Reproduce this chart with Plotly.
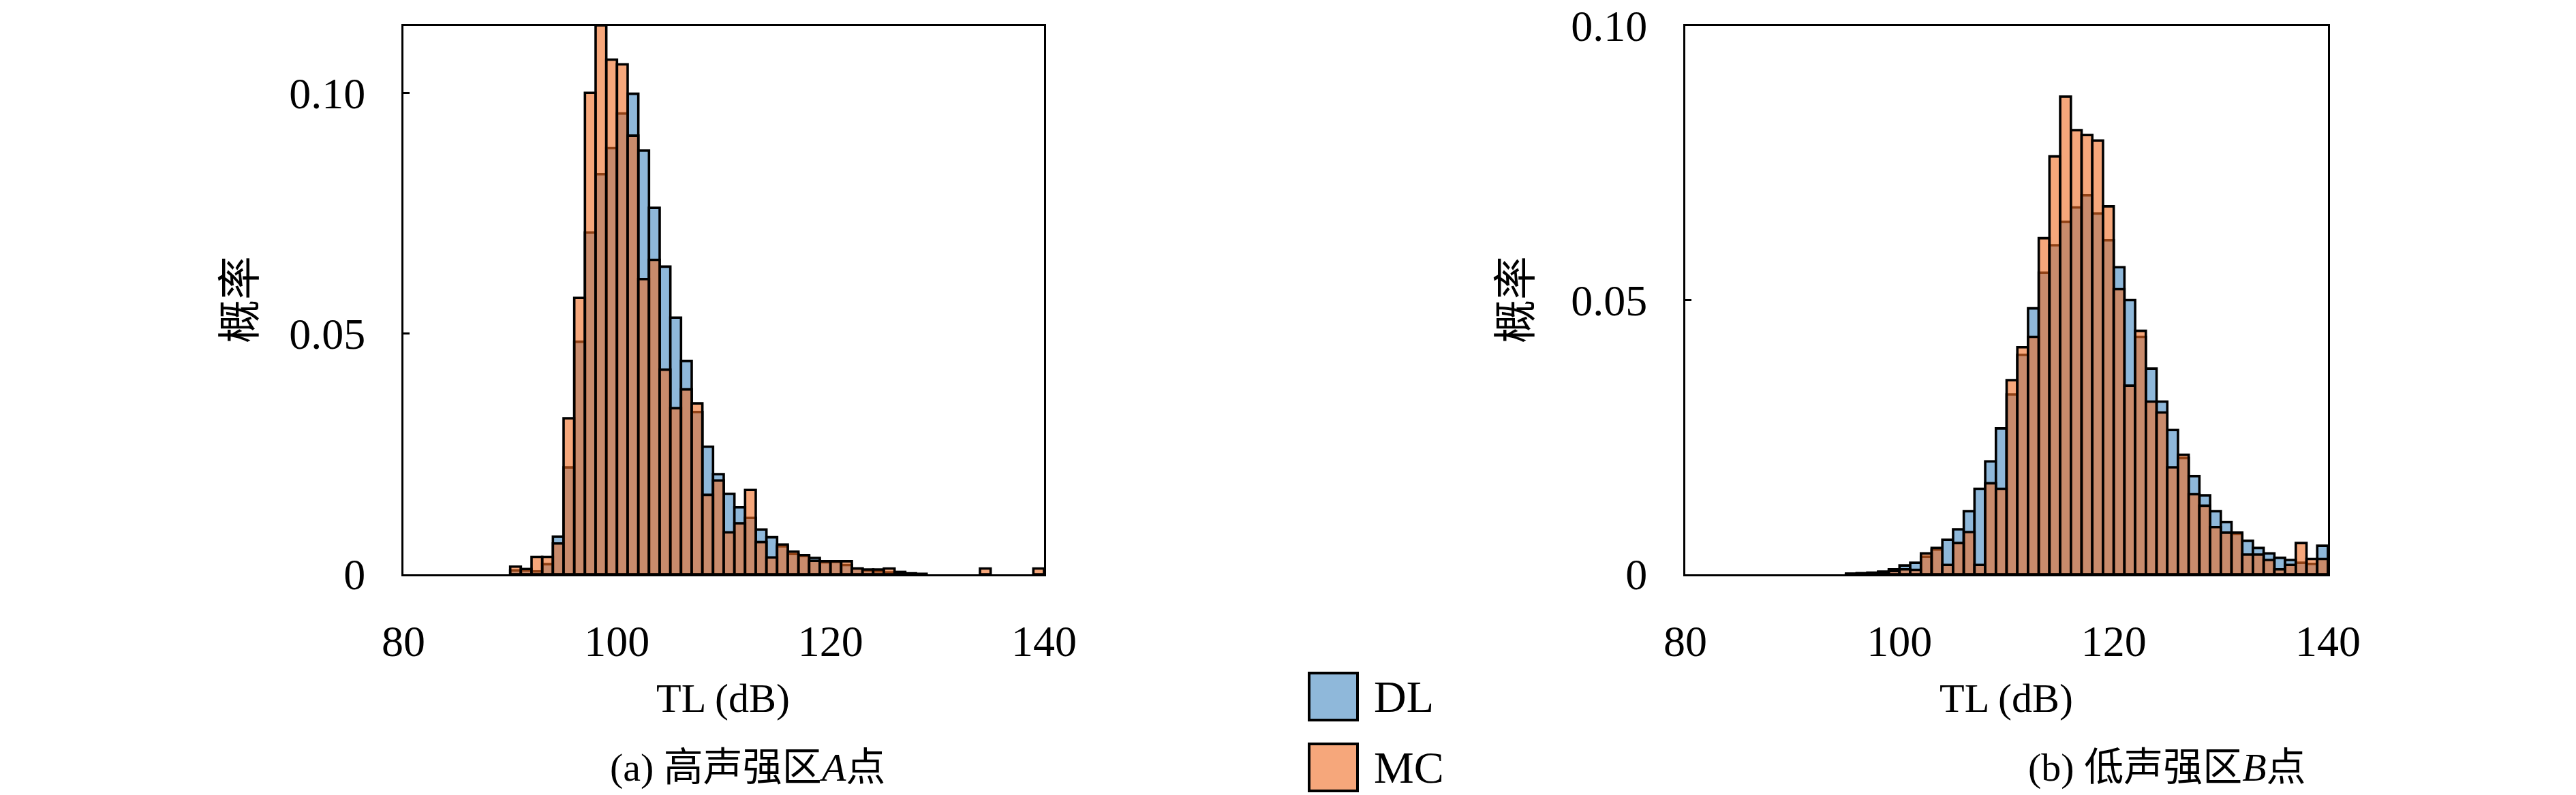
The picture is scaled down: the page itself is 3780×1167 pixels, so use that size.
import plotly.graph_objects as go
from plotly.subplots import make_subplots

# ---- data: probability per 1 dB bin (bin left edge in dB) ----
A_BINS = list(range(90, 140))
A_DL = [0.0008, 0.0008, 0.0006, 0.0021, 0.0078, 0.0222, 0.0483, 0.0710, 0.0831, 0.0885,
        0.0957, 0.0998, 0.0880, 0.0761, 0.0639, 0.0533, 0.0443, 0.0337, 0.0265, 0.0208,
        0.0167, 0.0139, 0.0117, 0.0093, 0.0077, 0.0058, 0.0042, 0.0038, 0.0034, 0.0025,
        0.0026, 0.0019, 0.0012, 0.0008, 0.0006, 0.0004, 0.0003, 0.0002, 0.0001, 0.0,
        0.0, 0.0, 0.0, 0.0, 0.0, 0.0, 0.0, 0.0, 0.0, 0.0]
A_MC = [0.0016, 0.0011, 0.0036, 0.0036, 0.0064, 0.0324, 0.0574, 0.1000, 0.1140, 0.1069,
        0.1059, 0.0911, 0.0613, 0.0653, 0.0425, 0.0345, 0.0384, 0.0355, 0.0165, 0.0195,
        0.0087, 0.0106, 0.0175, 0.0067, 0.0035, 0.0062, 0.0047, 0.0040, 0.0028, 0.0027,
        0.0027, 0.0027, 0.0012, 0.0010, 0.0010, 0.0012, 0.0005, 0.0, 0.0, 0.0,
        0.0, 0.0, 0.0, 0.0, 0.0012, 0.0, 0.0, 0.0, 0.0, 0.0012]

B_BINS = list(range(95, 140))
B_DL = [0.0001, 0.0002, 0.0003, 0.0005, 0.0009, 0.0016, 0.0021, 0.0032, 0.0045, 0.0063,
        0.0082, 0.0115, 0.0156, 0.0206, 0.0266, 0.0328, 0.0400, 0.0485, 0.0550, 0.0600,
        0.0643, 0.0669, 0.0691, 0.0658, 0.0609, 0.0560, 0.0500, 0.0433, 0.0375, 0.0315,
        0.0263, 0.0212, 0.0179, 0.0144, 0.0115, 0.0095, 0.0074, 0.0061, 0.0048, 0.0038,
        0.0030, 0.0026, 0.0021, 0.0019, 0.0052]
B_MC = [0.0001, 0.0001, 0.0002, 0.0004, 0.0006, 0.0009, 0.0008, 0.0038, 0.0048, 0.0017,
        0.0057, 0.0077, 0.0017, 0.0166, 0.0156, 0.0354, 0.0414, 0.0433, 0.0613, 0.0762,
        0.0871, 0.0810, 0.0801, 0.0791, 0.0671, 0.0520, 0.0344, 0.0444, 0.0315, 0.0295,
        0.0195, 0.0218, 0.0146, 0.0125, 0.0086, 0.0076, 0.0076, 0.0036, 0.0036, 0.0026,
        0.0009, 0.0017, 0.0057, 0.0028, 0.0028]

SERIES = ["DL", "MC"]
X_TICKS = [80, 100, 120, 140]
Y_TICKS = [0, 0.05, 0.10]
Y_TICKTEXT = ["0", "0.05", "0.10"]
CAPTIONS = ["(a) 高声强区<i>A</i>点", "(b) 低声强区<i>B</i>点"]

DL_FILL = "#8fb8da"
MC_FILL = "rgba(240,108,35,0.6)"
FONT = "Liberation Serif, Noto Sans CJK SC, serif"
W, H = 3780, 1167

fig = make_subplots(rows=1, cols=2)

for col, (bins, dl, mc) in enumerate([(A_BINS, A_DL, A_MC), (B_BINS, B_DL, B_MC)], start=1):
    centers = [b + 0.5 for b in bins]
    for name, vals, fill in (("DL", dl, DL_FILL), ("MC", mc, MC_FILL)):
        xs = [c for c, v in zip(centers, vals) if v > 0]
        ys = [v for v in vals if v > 0]
        fig.add_trace(go.Bar(
            x=xs, y=ys, width=1.0, name=name, showlegend=False,
            marker=dict(color=fill, line=dict(color="black", width=3.6)),
        ), row=1, col=col)

# panel placement in paper coords (from pixel geometry of the reference)
y_dom = [1 - 843 / H, 1 - 38 / H]
fig.update_layout(
    xaxis=dict(domain=[592 / W, 1532 / W]),
    xaxis2=dict(domain=[2473 / W, 3416 / W]),
    yaxis=dict(domain=y_dom),
    yaxis2=dict(domain=y_dom),
)

axis_common = dict(showline=True, linecolor="black", linewidth=3, mirror=True,
                   showgrid=False, zeroline=False, automargin=False,
                   tickfont=dict(family=FONT, size=64, color="black"))
fig.update_xaxes(range=[80, 140], tickvals=X_TICKS, ticks="", ticklabelstandoff=40,
                 **axis_common)
fig.update_yaxes(tickvals=Y_TICKS, ticktext=Y_TICKTEXT, ticks="inside", ticklen=9,
                 tickwidth=3, tickcolor="black", ticklabelstandoff=40, **axis_common)
fig.update_yaxes(range=[0, 0.1139], row=1, col=1)
fig.update_yaxes(range=[0, 0.10001], row=1, col=2)


def txt(text, x, y, size, **kw):
    d = dict(text=text, x=x / W, y=1 - y / H, xref="paper", yref="paper",
             xanchor="center", yanchor="middle", showarrow=False,
             font=dict(family=FONT, size=size, color="black"))
    d.update(kw)
    return d


ann = []
for xc, ylab_x, cap_x, cap in ((1061, 352, 1097, CAPTIONS[0]),
                               (2944, 2224, 3180, CAPTIONS[1])):
    ann.append(txt("概率", ylab_x, 440, 64, textangle=-90))
    ann.append(txt("TL (dB)", xc, 1025, 60))
    ann.append(txt(cap, cap_x, 1126, 58))

# legend drawn as large swatches, matching the figure's layout
shapes = []
for i, (name, fill) in enumerate(zip(SERIES, [DL_FILL, MC_FILL])):
    y0, y1 = 988 + i * 104, 1057 + i * 104
    shapes.append(dict(type="rect", xref="paper", yref="paper",
                       x0=1921 / W, x1=1992 / W, y0=1 - y1 / H, y1=1 - y0 / H,
                       fillcolor=fill, line=dict(color="black", width=4)))
    ann.append(txt(name, 2014, (y0 + y1) / 2, 66, xanchor="left"))

fig.update_layout(
    width=W, height=H, barmode="overlay",
    margin=dict(l=0, r=0, t=0, b=0),
    plot_bgcolor="white", paper_bgcolor="white",
    annotations=ann, shapes=shapes,
)

# drop the browser's default body margin so the figure sits at the page corner
fig.write_html("out.html", config={"displayModeBar": False},
               post_script="document.body.style.margin='0';")
